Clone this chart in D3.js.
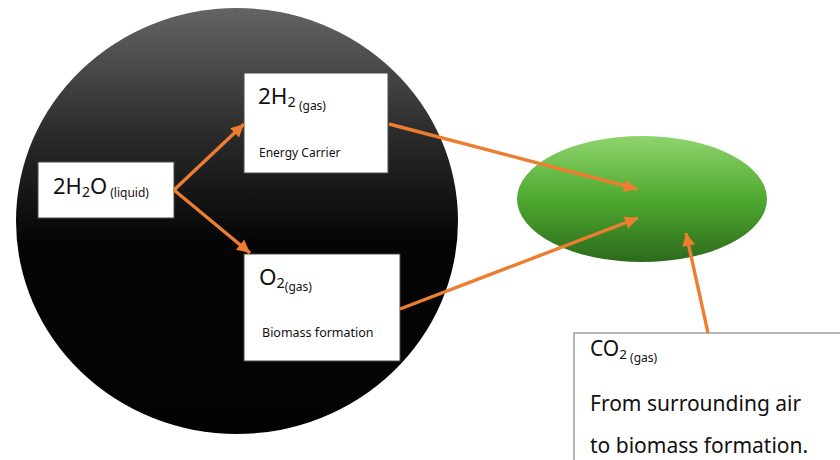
<!DOCTYPE html>
<html>
<head>
<meta charset="utf-8">
<script src="https://cdn.jsdelivr.net/npm/d3@7"></script>
<style>
  body { margin: 0; background: #fff; }
  text { font-family: "Noto Sans", "Open Sans", sans-serif; }
</style>
</head>
<body>
<div id="chart"></div>
<script>
// node ids and their text
const nodeIds = ["water", "hydrogen", "oxygen", "co2"];
const formulaMain = ["2H", "2H", "O", "CO"];
const formulaSub = ["2", "2", "2", "2"];
const formulaTail = ["O", "", "", ""];
const formulaState = [" (liquid)", " (gas)", "(gas)", " (gas)"];
const descriptions = [[], ["Energy Carrier"], ["Biomass formation"], ["From surrounding air", "to biomass formation."]];
// links: from -> to
const linkFrom = ["water", "water", "hydrogen", "oxygen", "co2"];
const linkTo = ["hydrogen", "oxygen", "biomass", "biomass", "biomass"];

class ProcessDiagram {
  constructor(el) {
    this.el = el;
    this.width = 840;
    this.height = 460;
    this.wrangleData();
  }

  wrangleData() {
    // layout kept apart from the data arrays
    const layout = {
      water:    { box: [38, 162, 136, 56], title: [53, 194, 22, 12], descPos: [] },
      hydrogen: { box: [244, 73, 144, 100], title: [258, 104, 22.5, 12], descPos: [259, 157, 12] },
      oxygen:   { box: [244, 254, 156, 107], title: [259, 285, 22.5, 12], descPos: [262, 337, 12.5] },
      co2:      { box: [574, 333, 280, 140], title: [590, 356, 21, 12], descPos: [590, 411, 21, 42] },
    };
    const anchors = {
      water:    { out: [174, 190] },
      hydrogen: { in: [244, 124], out: [389, 124] },
      oxygen:   { in: [250, 253], out: [400, 309] },
      co2:      { out: [708, 333] },
    };
    const biomassIn = { hydrogen: [637, 189], oxygen: [638, 218], co2: [686, 233] };

    this.nodes = nodeIds.map((id, i) => ({
      id,
      main: formulaMain[i],
      sub: formulaSub[i],
      tail: formulaTail[i],
      state: formulaState[i],
      desc: descriptions[i],
      ...layout[id],
    }));
    this.links = linkFrom.map((f, i) => {
      const t = linkTo[i];
      return {
        source: anchors[f].out,
        target: t === "biomass" ? biomassIn[f] : anchors[t].in,
      };
    });
    this.initChart();
  }

  initChart() {
    const x = d3.scaleLinear().domain([0, this.width]).range([0, this.width]);
    const y = d3.scaleLinear().domain([0, this.height]).range([0, this.height]);

    const svg = d3.select(`#${this.el}`)
      .append("svg")
      .attr("width", this.width)
      .attr("height", this.height);

    const defs = svg.append("defs");
    const dark = defs.append("linearGradient").attr("id", "darkGrad")
      .attr("x1", 0).attr("y1", 0).attr("x2", 0).attr("y2", 1);
    dark.append("stop").attr("offset", "0%").attr("stop-color", "#646464");
    dark.append("stop").attr("offset", "30%").attr("stop-color", "#2a2a2a");
    dark.append("stop").attr("offset", "55%").attr("stop-color", "#050505");
    dark.append("stop").attr("offset", "100%").attr("stop-color", "#030303");

    const green = defs.append("linearGradient").attr("id", "greenGrad")
      .attr("x1", 0).attr("y1", 0).attr("x2", 0).attr("y2", 1);
    green.append("stop").attr("offset", "0%").attr("stop-color", "#8fd46e");
    green.append("stop").attr("offset", "50%").attr("stop-color", "#4ea92f");
    green.append("stop").attr("offset", "100%").attr("stop-color", "#2d6a1d");

    defs.append("marker")
      .attr("id", "arrow")
      .attr("viewBox", "0 0 10 10")
      .attr("refX", 10).attr("refY", 5)
      .attr("markerWidth", 4.6).attr("markerHeight", 3.8)
      .attr("markerUnits", "strokeWidth")
      .attr("orient", "auto")
      .append("path")
      .attr("d", "M0,0 L10,5 L0,10 Z")
      .attr("fill", "#ed7d31");

    // big dark circle
    svg.append("ellipse")
      .attr("cx", x(237)).attr("cy", y(221))
      .attr("rx", 221).attr("ry", 213)
      .attr("fill", "url(#darkGrad)");

    // green biomass ellipse
    svg.append("ellipse")
      .attr("cx", x(642)).attr("cy", y(199))
      .attr("rx", 125).attr("ry", 63)
      .attr("fill", "url(#greenGrad)");

    // boxes
    const g = svg.selectAll(".node")
      .data(this.nodes)
      .join("g")
      .attr("class", "node");

    g.append("rect")
      .attr("x", (d) => x(d.box[0]))
      .attr("y", (d) => y(d.box[1]))
      .attr("width", (d) => d.box[2])
      .attr("height", (d) => d.box[3])
      .attr("fill", "#fff")
      .attr("stroke", (d) => (d.id === "co2" ? "#6e6e6e" : "#4a4a4a"))
      .attr("stroke-width", 1);

    const title = g.append("text")
      .attr("x", (d) => x(d.title[0]))
      .attr("y", (d) => y(d.title[1]))
      .attr("fill", "#111")
      .attr("font-size", (d) => d.title[2]);
    title.append("tspan").text((d) => d.main);
    title.append("tspan")
      .attr("font-size", (d) => d.title[2] * 0.64)
      .attr("dy", 3)
      .text((d) => d.sub);
    title.append("tspan")
      .attr("dy", -3)
      .text((d) => d.tail);
    title.append("tspan")
      .attr("font-size", (d) => d.title[3])
      .attr("dy", 3)
      .text((d) => d.state);

    g.selectAll(".desc")
      .data((d) => d.desc.map((t, i) => ({ t, i, p: d.descPos })))
      .join("text")
      .attr("class", "desc")
      .attr("x", (d) => x(d.p[0]))
      .attr("y", (d) => y(d.p[1] + d.i * (d.p[3] || 0)))
      .attr("font-size", (d) => d.p[2])
      .attr("fill", "#111")
      .text((d) => d.t);

    // arrows
    svg.selectAll(".link")
      .data(this.links)
      .join("line")
      .attr("class", "link")
      .attr("x1", (d) => x(d.source[0]))
      .attr("y1", (d) => y(d.source[1]))
      .attr("x2", (d) => x(d.target[0]))
      .attr("y2", (d) => y(d.target[1]))
      .attr("stroke", "#ed7d31")
      .attr("stroke-width", 3.4)
      .attr("marker-end", "url(#arrow)");
  }
}

new ProcessDiagram("chart");
</script>
</body>
</html>
